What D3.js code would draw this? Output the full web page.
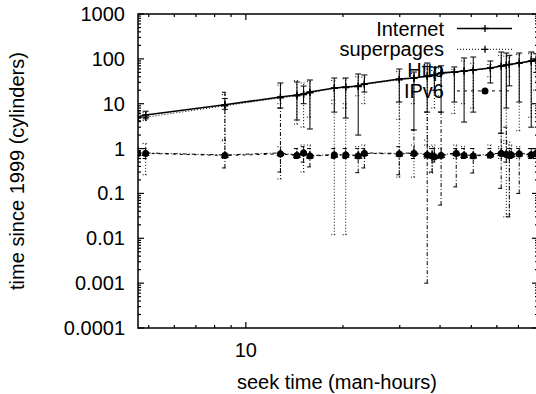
<!DOCTYPE html>
<html>
<head>
<meta charset="utf-8">
<script src="https://cdn.jsdelivr.net/npm/d3@7"></script>
<style>
  body { margin: 0; background: #fff; }
  svg { display: block; }
  text { font-family: "Liberation Sans", Arial, Helvetica, sans-serif; }
</style>
</head>
<body>
<svg id="chart" width="536" height="394"></svg>
<script>
// ---------------- data ----------------
const seriesNames = ["Internet", "superpages", "Http", "IPv6"];

const xUpper = [4.62, 4.89, 8.61, 12.8, 14.4, 15.1, 15.8, 18.8, 20.4, 22.3, 23.3, 29.9, 33.2,
                36.5, 38.4, 40.3, 44.3, 47.5, 50.7, 57.3, 61.9, 64.2, 65.6, 70.4, 76.7, 79.5];

const internetY  = [5.1, 5.6, 9.5, 14.1, 15.6, 16.5, 18.3, 22.4, 23.6, 24.8, 27.5, 35.6, 37.4,
                    41.5, 43.8, 48.6, 51, 53.7, 56.5, 62.6, 69.3, 73, 75, 80.9, 89.6, 94.3];
const internetHi = [6.5, 6.8, 13, 29, 30.5, 24.8, 33.8, 37.4, 37.4, 46, 43.7, 59.4, 50.9,
                    80.9, 65, 70, 65.9, 104.5, 110, 89.6, 142, 135, 120, 135, 142, 130];
const internetLo = [4.2, 4.6, 7.5, 8.0, 4.34, 10, 2.73, 6.5, 4.8, 2.0, 18.2, 10.9, 2.6,
                    6.5, 20, 6.5, 10.9, 3.9, 6.5, 29, 2.2, 8, 25, 10.9, 3.0, 50];

const superY  = [4.8, 5.0, 9.0, 13.5, 15, 16, 17.5, 22, 23, 24, 27, 34, 37,
                 40, 43, 47, 50, 53, 56, 62, 68, 72, 74, 80, 88, 93];
const superHi = [6, 6.3, 16, 26, 33, 29, 31, 33, 36, 40, 39, 52, 47,
                 60, 55, 62, 58, 90, 80, 75, 120, 115, 110, 125, 130, 140];
const superLo = [4.3, 4.2, 1.5, 10, 3.5, 3.0, 5, 12, 8, 15, 10, 4.5, 10,
                 1.2, 8, 15, 6, 10, 8, 40, 1.0, 1.5, 40, 2.5, 5, 20];

const xLower = [4.62, 4.89, 8.61, 12.8, 14.4, 15.1, 15.8, 18.8, 20.4, 22.3, 23.3, 29.9, 33.2,
                36.5, 37.8, 38.4, 40.3, 44.9, 47.5, 50.7, 57.3, 61.9, 64.2, 65.6, 66.5, 70.4, 76.7, 79.5];

const httpY  = [0.80, 0.80, 0.72, 0.80, 0.72, 0.83, 0.70, 0.73, 0.73, 0.70, 0.80, 0.78, 0.80,
                0.75, 0.70, 0.68, 0.72, 0.80, 0.72, 0.70, 0.75, 0.80, 0.77, 0.72, 0.75, 0.78, 0.75, 0.80];
const httpHi = [1.08, 1.0, 18, 8.0, 1.0, 1.1, 1.0, 1.0, 1.0, 1.0, 1.0, 1.1, 2.6,
                6.5, 1.0, 1.0, 6.5, 1.0, 1.0, 1.0, 1.0, 2.2, 3.0, 1.0, 1.0, 1.0, 1.0, 1.0];
const httpLo = [0.7, 0.6, 0.37, 0.30, 0.6, 0.5, 0.39, 0.6, 0.6, 0.29, 0.37, 0.26, 0.6,
                0.001, 0.3, 0.5, 0.055, 0.14, 0.6, 0.285, 0.62, 0.13, 0.5, 0.03, 0.6, 0.1, 0.6, 0.6];

const ipv6Y  = [0.78, 0.78, 0.70, 0.76, 0.70, 0.80, 0.68, 0.72, 0.72, 0.68, 0.78, 0.76, 0.78,
                0.72, 0.68, 0.66, 0.70, 0.78, 0.70, 0.68, 0.72, 0.78, 0.74, 0.70, 0.72, 0.76, 0.72, 0.78];
const ipv6Hi = [1.03, 1.3, 1.55, 1.1, 1.0, 1.2, 1.2, 10, 10, 1.1, 1.2, 10.9, 1.2,
                1.55, 1.1, 1.2, 1.0, 1.2, 1.1, 1.0, 1.2, 1.1, 1.3, 1.4, 1.2, 1.1, 1.0, 1.0];
const ipv6Lo = [0.6, 0.26, 0.6, 0.21, 0.6, 0.30, 0.6, 0.012, 0.012, 0.6, 0.6, 0.23, 0.23,
                0.6, 0.285, 0.56, 0.6, 0.6, 0.6, 0.6, 0.62, 0.6, 0.03, 0.034, 0.6, 0.6, 0.6, 0.6];

const yTickValues = [0.0001, 0.001, 0.01, 0.1, 1, 10, 100, 1000];
const yTickLabels = ["0.0001", "0.001", "0.01", "0.1", "1", "10", "100", "1000"];
const xTickValues = [10];
const xTickLabels = ["10"];
const xLabel = "seek time (man-hours)";
const yLabel = "time since 1999 (cylinders)";

// ---------------- layout ----------------
const L = 138, R = 538, T = 14, B = 328;
const svg = d3.select("#chart");
const x = d3.scaleLog().domain([4.63, 80.5]).range([L, R]);
const y = d3.scaleLog().domain([0.0001, 1000]).range([B, T]);

const plot = svg.append("g");
svg.append("defs").append("clipPath").attr("id", "clip")
  .append("rect").attr("x", L).attr("y", T).attr("width", R - L).attr("height", B - T);
const dataG = plot.append("g").attr("clip-path", "url(#clip)");

function makeSeries(xs, ys, lo, hi) {
  return xs.map((d, i) => ({ x: d, y: ys[i], lo: lo[i], hi: hi[i] }));
}
const series = [
  { name: "Internet", data: makeSeries(xUpper, internetY, internetLo, internetHi),
    line: "", lw: 1.6, bar: "", bw: 1, mark: "plus" },
  { name: "superpages", data: makeSeries(xUpper, superY, superLo, superHi),
    line: "1,2", lw: 1, bar: "1,2", bw: 1, mark: "plus" },
  { name: "Http", data: makeSeries(xLower, httpY, httpLo, httpHi),
    line: "4,2,1,2", lw: 1, bar: "4,2,1,2", bw: 1, mark: "tri" },
  { name: "IPv6", data: makeSeries(xLower, ipv6Y, ipv6Lo, ipv6Hi),
    line: "3,4", lw: 1, bar: "1,2", bw: 1, mark: "circle" }
];

function drawMark(g, type, cx, cy) {
  if (type === "plus") {
    g.append("path").attr("d", `M${cx-3.5},${cy}H${cx+3.5}M${cx},${cy-3.5}V${cy+3.5}`)
      .attr("stroke", "#000").attr("stroke-width", 1.3).attr("fill", "none");
  } else if (type === "tri") {
    g.append("path").attr("d", `M${cx},${cy-4.5}L${cx+4},${cy+3}L${cx-4},${cy+3}Z`)
      .attr("fill", "#000");
  } else {
    g.append("circle").attr("cx", cx).attr("cy", cy).attr("r", 3.5).attr("fill", "#000");
  }
}

const lineGen = d3.line().x(d => x(d.x)).y(d => y(d.y));

series.forEach(s => {
  const g = dataG.append("g");
  // error bars
  s.data.forEach(d => {
    const px = x(d.x);
    const path = `M${px},${y(d.lo)}V${y(d.hi)}M${px-3},${y(d.lo)}H${px+3}M${px-3},${y(d.hi)}H${px+3}`;
    g.append("path").attr("d", path).attr("stroke", "#000").attr("stroke-width", s.bw)
      .attr("fill", "none").attr("stroke-dasharray", s.bar || null);
  });
  // line
  g.append("path").datum(s.data).attr("d", lineGen).attr("fill", "none")
    .attr("stroke", "#000").attr("stroke-width", s.lw)
    .attr("stroke-dasharray", s.line || null);
  s.data.forEach(d => drawMark(g, s.mark, x(d.x), y(d.y)));
});

// ---------------- axes / border ----------------
const axG = svg.append("g").attr("stroke", "#000").attr("stroke-width", 1.2);
const yMinor = [];
for (let e = -4; e < 3; e++) for (let m = 2; m <= 9; m++) yMinor.push(m * Math.pow(10, e));
yTickValues.forEach(v => {
  axG.append("line").attr("x1", L).attr("x2", L + 6).attr("y1", y(v)).attr("y2", y(v));
  axG.append("line").attr("x1", R).attr("x2", R - 6).attr("y1", y(v)).attr("y2", y(v));
});
yMinor.forEach(v => {
  axG.append("line").attr("x1", L).attr("x2", L + 3).attr("y1", y(v)).attr("y2", y(v));
  axG.append("line").attr("x1", R).attr("x2", R - 3).attr("y1", y(v)).attr("y2", y(v));
});
const xMinor = [5, 6, 7, 8, 9, 20, 30, 40, 50, 60, 70, 80];
xTickValues.forEach(v => {
  axG.append("line").attr("x1", x(v)).attr("x2", x(v)).attr("y1", B).attr("y2", B - 6);
  axG.append("line").attr("x1", x(v)).attr("x2", x(v)).attr("y1", T).attr("y2", T + 6);
});
xMinor.forEach(v => {
  axG.append("line").attr("x1", x(v)).attr("x2", x(v)).attr("y1", B).attr("y2", B - 3);
  axG.append("line").attr("x1", x(v)).attr("x2", x(v)).attr("y1", T).attr("y2", T + 3);
});
svg.append("rect").attr("x", L).attr("y", T).attr("width", R - L).attr("height", B - T)
  .attr("fill", "none").attr("stroke", "#000").attr("stroke-width", 1.5);

yTickValues.forEach((v, i) => {
  svg.append("text").attr("x", 125).attr("y", y(v) + 7).attr("text-anchor", "end")
    .attr("font-size", 20).text(yTickLabels[i]);
});
xTickValues.forEach((v, i) => {
  svg.append("text").attr("x", x(v)).attr("y", 357).attr("text-anchor", "middle")
    .attr("font-size", 20).text(xTickLabels[i]);
});
svg.append("text").attr("x", (L + R) / 2 - 1).attr("y", 389).attr("text-anchor", "middle")
  .attr("font-size", 20).text(xLabel);
svg.append("text").attr("transform", `translate(24,${(T + B) / 2}) rotate(-90)`)
  .attr("text-anchor", "middle").attr("font-size", 20).text(yLabel);

// ---------------- legend ----------------
const legG = svg.append("g");
series.forEach((s, i) => {
  const cy = 28.5 + i * 20.8;
  legG.append("text").attr("x", 444).attr("y", cy + 7).attr("text-anchor", "end")
    .attr("font-size", 20).text(s.name);
  if (s.name !== "Http") {
    legG.append("line").attr("x1", 457).attr("x2", 512).attr("y1", cy).attr("y2", cy)
      .attr("stroke", "#000").attr("stroke-width", s.lw)
      .attr("stroke-dasharray", s.line || null);
    drawMark(legG, s.mark, 485, cy);
  }
});
</script>
</body>
</html>
